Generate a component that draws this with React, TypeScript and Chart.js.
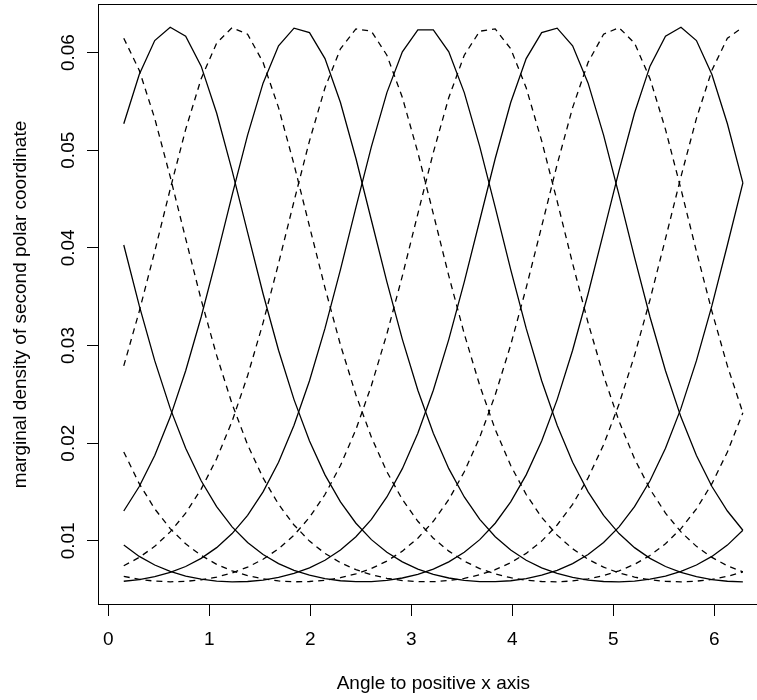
import React, { useEffect, useRef } from 'react';
import { Chart, registerables } from 'chart.js';

Chart.register(...registerables);

// Angle (radians) at which every density curve is evaluated
const angles = [0.1532, 0.3065, 0.4597, 0.6130, 0.7662, 0.9195, 1.0727, 1.2260, 1.3792, 1.5325, 1.6857, 1.8390, 1.9922, 2.1455, 2.2987, 2.4520, 2.6052, 2.7585, 2.9117, 3.0650, 3.2182, 3.3715, 3.5247, 3.6780, 3.8312, 3.9845, 4.1377, 4.2910, 4.4442, 4.5975, 4.7507, 4.9040, 5.0572, 5.2105, 5.3637, 5.5170, 5.6702, 5.8235, 5.9767, 6.1300, 6.2832];

// Marginal densities, one series per mean direction (solid / dashed alternating)
const density1 = [0.05271, 0.05776, 0.06123, 0.06259, 0.06168, 0.05861, 0.05381, 0.04791, 0.04158, 0.03530, 0.02952, 0.02446, 0.02022, 0.01675, 0.01398, 0.01180, 0.01012, 0.00882, 0.00784, 0.00710, 0.00656, 0.00619, 0.00594, 0.00582, 0.00581, 0.00591, 0.00613, 0.00648, 0.00698, 0.00767, 0.00860, 0.00983, 0.01143, 0.01350, 0.01615, 0.01947, 0.02356, 0.02845, 0.03408, 0.04029, 0.04666];
const density2 = [0.02791, 0.03350, 0.03963, 0.04602, 0.05213, 0.05733, 0.06097, 0.06255, 0.06188, 0.05900, 0.05436, 0.04854, 0.04220, 0.03591, 0.03006, 0.02494, 0.02061, 0.01707, 0.01423, 0.01200, 0.01027, 0.00894, 0.00792, 0.00716, 0.00661, 0.00622, 0.00596, 0.00583, 0.00580, 0.00589, 0.00610, 0.00643, 0.00692, 0.00759, 0.00850, 0.00969, 0.01125, 0.01327, 0.01585, 0.01910, 0.02311];
const density3 = [0.01305, 0.01556, 0.01874, 0.02267, 0.02741, 0.03292, 0.03902, 0.04541, 0.05154, 0.05687, 0.06069, 0.06250, 0.06205, 0.05938, 0.05489, 0.04915, 0.04283, 0.03652, 0.03063, 0.02542, 0.02101, 0.01739, 0.01449, 0.01220, 0.01042, 0.00905, 0.00801, 0.00723, 0.00666, 0.00625, 0.00598, 0.00583, 0.00580, 0.00588, 0.00607, 0.00639, 0.00686, 0.00752, 0.00840, 0.00956, 0.01108];
const density4 = [0.00744, 0.00830, 0.00943, 0.01091, 0.01283, 0.01529, 0.01840, 0.02225, 0.02690, 0.03232, 0.03840, 0.04478, 0.05096, 0.05639, 0.06039, 0.06242, 0.06219, 0.05973, 0.05540, 0.04976, 0.04349, 0.03713, 0.03119, 0.02590, 0.02140, 0.01771, 0.01474, 0.01240, 0.01058, 0.00918, 0.00811, 0.00730, 0.00671, 0.00628, 0.00600, 0.00585, 0.00580, 0.00587, 0.00605, 0.00636, 0.00681];
const density5 = [0.00586, 0.00602, 0.00632, 0.00676, 0.00737, 0.00820, 0.00930, 0.01074, 0.01261, 0.01501, 0.01805, 0.02183, 0.02639, 0.03175, 0.03777, 0.04414, 0.05037, 0.05590, 0.06007, 0.06232, 0.06232, 0.06007, 0.05590, 0.05037, 0.04414, 0.03777, 0.03175, 0.02639, 0.02183, 0.01805, 0.01501, 0.01261, 0.01074, 0.00930, 0.00820, 0.00737, 0.00676, 0.00632, 0.00602, 0.00586, 0.00580];
const density6 = [0.00636, 0.00605, 0.00587, 0.00580, 0.00585, 0.00600, 0.00628, 0.00671, 0.00730, 0.00811, 0.00918, 0.01058, 0.01240, 0.01474, 0.01771, 0.02140, 0.02590, 0.03119, 0.03713, 0.04349, 0.04976, 0.05540, 0.05973, 0.06219, 0.06242, 0.06039, 0.05639, 0.05096, 0.04478, 0.03840, 0.03232, 0.02690, 0.02225, 0.01840, 0.01529, 0.01283, 0.01091, 0.00943, 0.00830, 0.00744, 0.00681];
const density7 = [0.00956, 0.00840, 0.00752, 0.00686, 0.00639, 0.00607, 0.00588, 0.00580, 0.00583, 0.00598, 0.00625, 0.00666, 0.00723, 0.00801, 0.00905, 0.01042, 0.01220, 0.01449, 0.01739, 0.02101, 0.02542, 0.03063, 0.03652, 0.04283, 0.04915, 0.05489, 0.05938, 0.06205, 0.06250, 0.06069, 0.05687, 0.05154, 0.04541, 0.03902, 0.03292, 0.02741, 0.02267, 0.01874, 0.01556, 0.01305, 0.01108];
const density8 = [0.01910, 0.01585, 0.01327, 0.01125, 0.00969, 0.00850, 0.00759, 0.00692, 0.00643, 0.00610, 0.00589, 0.00580, 0.00583, 0.00596, 0.00622, 0.00661, 0.00716, 0.00792, 0.00894, 0.01027, 0.01200, 0.01423, 0.01707, 0.02061, 0.02494, 0.03006, 0.03591, 0.04220, 0.04854, 0.05436, 0.05900, 0.06188, 0.06255, 0.06097, 0.05733, 0.05213, 0.04602, 0.03963, 0.03350, 0.02791, 0.02311];
const density9 = [0.04029, 0.03408, 0.02845, 0.02356, 0.01947, 0.01615, 0.01350, 0.01143, 0.00983, 0.00860, 0.00767, 0.00698, 0.00648, 0.00613, 0.00591, 0.00581, 0.00582, 0.00594, 0.00619, 0.00656, 0.00710, 0.00784, 0.00882, 0.01012, 0.01180, 0.01398, 0.01675, 0.02022, 0.02446, 0.02952, 0.03530, 0.04158, 0.04791, 0.05381, 0.05861, 0.06168, 0.06259, 0.06123, 0.05776, 0.05271, 0.04666];
const density10 = [0.06147, 0.05819, 0.05326, 0.04729, 0.04094, 0.03469, 0.02899, 0.02401, 0.01984, 0.01644, 0.01374, 0.01162, 0.00997, 0.00871, 0.00776, 0.00704, 0.00652, 0.00616, 0.00593, 0.00581, 0.00581, 0.00593, 0.00616, 0.00652, 0.00704, 0.00776, 0.00871, 0.00997, 0.01162, 0.01374, 0.01644, 0.01984, 0.02401, 0.02899, 0.03469, 0.04094, 0.04729, 0.05326, 0.05819, 0.06147, 0.06260];

const seriesList = [density1, density2, density3, density4, density5, density6, density7, density8, density9, density10];
const dashedFlags = [false, true, false, true, false, true, false, true, false, true];

const xTicks = [0, 1, 2, 3, 4, 5, 6];
const yTicks = [0.01, 0.02, 0.03, 0.04, 0.05, 0.06];
const xTitle = 'Angle to positive x axis';
const yTitle = 'marginal density of second polar coordinate';

const CANVAS_W = 790;
const CANVAS_H = 700;
const FONT = { family: '"Liberation Sans", Arial, Helvetica, sans-serif', size: 19 };

const framePlugin = {
  id: 'frame',
  afterDatasetsDraw(chart: any) {
    const { ctx, chartArea: a } = chart;
    ctx.save();
    ctx.strokeStyle = '#000';
    ctx.lineWidth = 1;
    ctx.strokeRect(Math.round(a.left) - 0.5, Math.round(a.top) - 0.5, Math.round(a.right - a.left) + 1, Math.round(a.bottom - a.top) + 1);
    ctx.restore();
  },
};

export default function App() {
  const ref = useRef<HTMLCanvasElement | null>(null);

  useEffect(() => {
    if (!ref.current) return;
    const datasets = seriesList.map((vals, i) => ({
      label: 'mean ' + (i + 1),
      data: angles.map((x, j) => ({ x, y: vals[j] })),
      borderColor: '#000',
      borderWidth: 1.3,
      borderDash: dashedFlags[i] ? [6, 5] : [],
      pointRadius: 0,
      fill: false,
      tension: 0,
    }));

    const gridCfg = { display: true, drawOnChartArea: false, drawTicks: true, tickLength: 12, color: '#000', lineWidth: 1 };

    const chart = new Chart(ref.current, {
      type: 'line',
      data: { datasets },
      plugins: [framePlugin],
      options: {
        animation: false,
        responsive: false,
        maintainAspectRatio: false,
        devicePixelRatio: 1,
        layout: { padding: { left: 0, top: 5, right: CANVAS_W - 767.6, bottom: 0 } },
        plugins: { legend: { display: false }, tooltip: { enabled: false } },
        scales: {
          x: {
            type: 'linear',
            position: 'bottom',
            bounds: 'data',
            min: -0.092,
            max: 6.528,
            afterBuildTicks: (s: any) => { s.ticks = xTicks.map((v) => ({ value: v })); },
            afterFit: (s: any) => { s.height = CANVAS_H - 604; s.paddingLeft = 0; s.paddingRight = 0; },
            ticks: { font: FONT, color: '#000', padding: 12, minRotation: 0, maxRotation: 0, autoSkip: false, callback: (v: any) => String(v) },
            grid: gridCfg,
            border: { display: false },
            title: { display: true, text: xTitle, font: FONT, color: '#000', padding: { top: 0, bottom: 5 } },
          },
          y: {
            type: 'linear',
            position: 'left',
            bounds: 'data',
            min: 0.003528,
            max: 0.064872,
            afterBuildTicks: (s: any) => { s.ticks = yTicks.map((v) => ({ value: v })); },
            afterFit: (s: any) => { s.width = 99; s.paddingTop = 0; s.paddingBottom = 0; },
            ticks: { font: FONT, color: '#000', padding: 0, minRotation: 90, maxRotation: 90, crossAlign: 'center', autoSkip: false, callback: (v: any) => Number(v).toFixed(2) },
            grid: gridCfg,
            border: { display: false },
            title: { display: true, text: yTitle, font: FONT, color: '#000', padding: { top: 9, bottom: 0 } },
          },
        },
      } as any,
    });
    return () => chart.destroy();
  }, []);

  return (
    <div style={{ position: 'absolute', left: 0, top: 0, width: 757, height: 700, overflow: 'hidden', background: '#fff' }}>
      <canvas ref={ref} width={CANVAS_W} height={CANVAS_H} style={{ display: 'block', width: CANVAS_W, height: CANVAS_H }} />
    </div>
  );
}
